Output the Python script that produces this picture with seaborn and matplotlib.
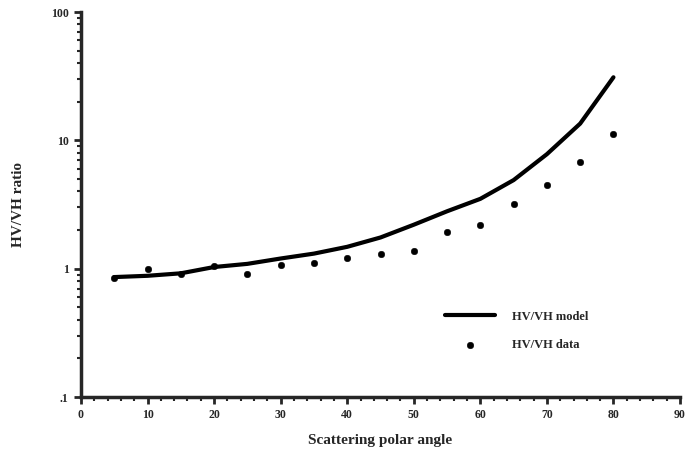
import matplotlib
matplotlib.use("Agg")
import matplotlib.pyplot as plt
import matplotlib.ticker as mticker
import seaborn as sns
import pandas as pd

angles = [5, 10, 15, 20, 25, 30, 35, 40, 45, 50, 55, 60, 65, 70, 75, 80]
model = [0.86, 0.88, 0.92, 1.03, 1.09, 1.2, 1.31, 1.48, 1.75, 2.2, 2.8, 3.5, 4.9, 7.8, 13.5, 31]
data = [0.84, 1.0, 0.91, 1.04, 0.91, 1.07, 1.11, 1.22, 1.29, 1.38, 1.92, 2.2, 3.2, 4.5, 6.8, 11.2]
xticks = [0, 10, 20, 30, 40, 50, 60, 70, 80, 90]
yticks = [0.1, 1, 10, 100]
yticklabels = [".1", "1", "10", "100"]

df = pd.DataFrame({"angle": angles, "model": model, "data": data})

sns.set_style("ticks")
plt.rcParams["font.family"] = ["Liberation Serif", "DejaVu Serif"]
plt.rcParams["font.weight"] = "bold"

fig = plt.figure(figsize=(6.88, 4.62), dpi=100)
ax = fig.add_axes([81 / 688, 1 - 397 / 462, (680 - 81) / 688, (397 - 12) / 462])

sns.lineplot(data=df, x="angle", y="model", ax=ax, color="black", linewidth=3,
             label="HV/VH model")
sns.scatterplot(data=df, x="angle", y="data", ax=ax, color="black", s=22,
                edgecolor="black", label="HV/VH data")

ax.set_yscale("log")
ax.set_xlim(0, 90)
ax.set_ylim(0.1, 100)
ax.set_xticks(xticks)
ax.set_xticklabels([str(t) for t in xticks], fontsize=8.5, fontweight="bold")
ax.xaxis.set_minor_locator(mticker.MultipleLocator(2))
ax.set_yticks(yticks)
ax.set_yticklabels(yticklabels, fontsize=8.5, fontweight="bold")
ax.yaxis.set_minor_locator(mticker.LogLocator(base=10, subs=range(2, 10)))
ax.yaxis.set_minor_formatter(mticker.NullFormatter())

for s in ["top", "right"]:
    ax.spines[s].set_visible(False)
for s in ["left", "bottom"]:
    ax.spines[s].set_linewidth(2.5)
ax.tick_params(which="major", length=5, width=2, direction="out", pad=4)
ax.tick_params(which="minor", length=3, width=1.5, direction="out")

ax.set_xlabel("Scattering polar angle", fontsize=11, fontweight="bold", labelpad=9)
ax.set_ylabel("HV/VH ratio", fontsize=11, fontweight="bold")
ax.yaxis.set_label_coords(-0.093, 0.5)

leg = ax.legend(loc="lower right", bbox_to_anchor=(0.865, 0.09), frameon=False,
                prop={"size": 9, "weight": "bold"}, handlelength=4, labelspacing=1.3,
                handletextpad=1.3)

fig.savefig("out.png", dpi=100)
